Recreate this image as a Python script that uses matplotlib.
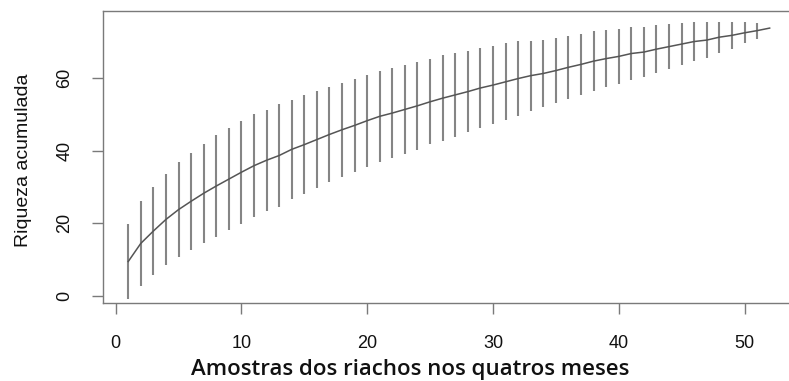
import numpy as np
import matplotlib
matplotlib.use("Agg")
import matplotlib.pyplot as plt

# curva de acumulacao de especies (media +- 2 dp)
amostras = list(range(1, 53))
riqueza = [9.5, 14.5, 17.9, 21.1, 23.8, 26.1, 28.3, 30.3, 32.2, 34.1,
           35.9, 37.4, 38.7, 40.4, 41.7, 43.1, 44.5, 45.8, 47.0, 48.3,
           49.5, 50.4, 51.4, 52.4, 53.5, 54.5, 55.4, 56.3, 57.3, 58.1,
           59.0, 59.9, 60.7, 61.3, 62.1, 63.0, 63.8, 64.7, 65.4, 66.0,
           66.8, 67.2, 68.0, 68.7, 69.4, 70.1, 70.5, 71.3, 71.8, 72.5,
           73.1, 73.8]
intervalo = [10.25, 11.7, 12.15, 12.55, 13.1, 13.4, 13.65, 14.0, 14.15, 14.15,
             14.1, 13.85, 14.1, 13.65, 13.65, 13.25, 13.05, 12.95, 12.8, 12.65,
             12.5, 12.45, 12.2, 12.15, 11.75, 11.85, 11.5, 11.25, 11.15, 10.8,
             10.65, 10.25, 9.65, 9.3, 9.05, 8.6, 8.45, 8.25, 7.9, 7.6,
             7.25, 6.8, 6.55, 6.25, 5.85, 5.25, 5.0, 4.25, 3.7, 2.85,
             2.2, 0.0]
xticks = [0, 10, 20, 30, 40, 50]
yticks = [0, 20, 40, 60]

x = np.array(amostras)
m = np.array(riqueza)
ic = np.array(intervalo)

fig = plt.figure(figsize=(7.89, 3.81), dpi=100)
ax = fig.add_axes([0.130, 0.204, 0.878, 0.768])

tem_barra = ic > 0
ax.vlines(x[tem_barra], (m - ic)[tem_barra], (m + ic)[tem_barra],
          color="#858585", lw=1.5)
ax.plot(x, m, color="#555555", lw=1.1)

ax.set_xlim(-1.04, 54.04)
ax.set_ylim(-2, 78.6)
ax.set_xticks(xticks)
ax.set_yticks(yticks)

for s in ax.spines.values():
    s.set_color("#7a7a7a")
    s.set_linewidth(1.0)

ax.tick_params(axis="both", direction="out", length=8, width=1.0,
               color="#7a7a7a", labelsize=13, labelcolor="#111111")
ax.tick_params(axis="x", pad=15)
ax.tick_params(axis="y", pad=13, labelrotation=90)
for lab in ax.get_yticklabels():
    lab.set_verticalalignment("center")
for lab in ax.get_xticklabels() + ax.get_yticklabels():
    lab.set_family("Liberation Sans")

fig.text(410 / 789, 1 - 375 / 381, "Amostras dos riachos nos quatros meses",
         ha="center", va="baseline", fontsize=16, family="Open Sans",
         weight="semibold", color="#111111")
fig.text(24 / 789, 1 - 160 / 381, "Riqueza acumulada", rotation=90,
         ha="center", va="center", fontsize=14,
         family=["Liberation Sans Narrow", "Liberation Sans"], color="#111111")

fig.savefig("out.png", dpi=100)
